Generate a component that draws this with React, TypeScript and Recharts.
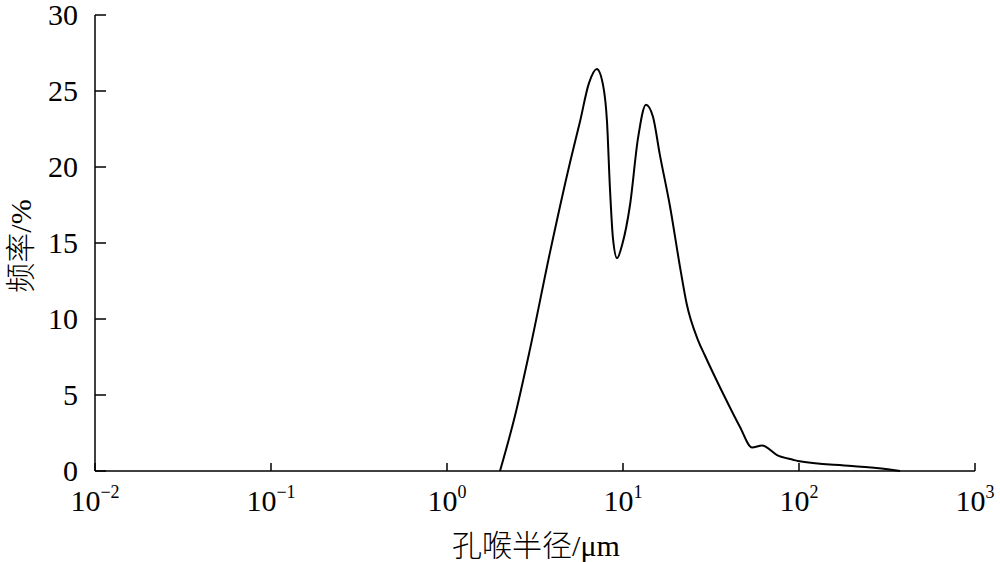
import React from "react";
import { LineChart, Line, XAxis, YAxis } from "recharts";

// pore throat radius (μm) and frequency (%)
const radius = [
  2.0, 2.43, 2.96, 3.85, 5.0, 5.7, 6.4, 7.1, 7.7, 8.11, 8.43, 8.77, 9.25,
  9.9, 10.96, 12.17, 13.5, 14.8, 16.2, 18.5, 21.1, 23.0, 26.7, 29.2, 37.0, 46.2, 54.1,
  61.7, 75.0, 92.5, 98.6, 200, 342, 375,
];
const frequency = [
  0, 3.6, 8.0, 14.4, 20.3, 23.0, 25.5, 26.45, 25.4, 23.0, 18.6, 15.3, 14.0,
  14.9, 17.5, 21.9, 24.1, 23.3, 20.8, 17.4, 13.4, 11.0, 8.6, 7.6, 5.1, 2.9, 1.55,
  1.68, 1.05, 0.74, 0.66, 0.33, 0.07, 0,
];
const xTicks = [0.01, 0.1, 1, 10, 100, 1000];
const xExponents = ["−2", "−1", "0", "1", "2", "3"];
const yTicks = [0, 5, 10, 15, 20, 25, 30];

const data = radius.map((r, i) => ({ r, f: frequency[i] }));

const SERIF = "Liberation Serif, Times New Roman, serif";
const CJK = "Noto Sans CJK SC, sans-serif";

function XTick(props: any) {
  const { x, y, index } = props;
  return (
    <g>
      <line x1={x} y1={y} x2={x} y2={y - 8} stroke="#000" strokeWidth={1.5} />
      <text x={x} y={y + 40} textAnchor="middle" fontFamily={SERIF} fontSize={30} fill="#000">
        <tspan>10</tspan>
        <tspan fontSize={18} dy={-13}>
          {xExponents[index]}
        </tspan>
      </text>
    </g>
  );
}

function YTick(props: any) {
  const { x, y, payload } = props;
  return (
    <g>
      <line x1={x} y1={y} x2={x + 11} y2={y} stroke="#000" strokeWidth={1.5} />
      <text x={x - 17} y={y + 10} textAnchor="end" fontFamily={SERIF} fontSize={30} fill="#000">
        {payload.value}
      </text>
    </g>
  );
}

export default function App() {
  return (
    <div style={{ position: "absolute", left: 0, top: 0, width: 1000, height: 562, background: "#fff" }}>
      <LineChart width={1000} height={562} data={data} margin={{ top: 15, right: 25, bottom: 90, left: 0 }}>
        <XAxis
          dataKey="r"
          type="number"
          scale="log"
          domain={[0.01, 1000]}
          ticks={xTicks}
          allowDataOverflow
          height={1}
          tickLine={false}
          tickSize={0}
          tickMargin={0}
          tick={<XTick />}
          axisLine={{ stroke: "#000", strokeWidth: 1.5 }}
          interval={0}
        />
        <YAxis
          width={95}
          type="number"
          domain={[0, 30]}
          ticks={yTicks}
          tickLine={false}
          tickSize={0}
          tickMargin={0}
          tick={<YTick />}
          axisLine={{ stroke: "#000", strokeWidth: 1.5 }}
          interval={0}
        />
        <Line
          dataKey="f"
          type="monotone"
          stroke="#000"
          strokeWidth={2}
          dot={false}
          isAnimationActive={false}
        />
      </LineChart>
      <div
        style={{
          position: "absolute",
          left: 536,
          top: 544,
          transform: "translate(-50%, -50%)",
          fontFamily: SERIF,
          fontSize: 30,
          whiteSpace: "nowrap",
          lineHeight: 1,
        }}
      >
        <span style={{ fontFamily: CJK, fontWeight: 300 }}>孔喉半径</span>/μm
      </div>
      <div
        style={{
          position: "absolute",
          left: 19,
          top: 246,
          transform: "translate(-50%, -50%) rotate(-90deg)",
          fontFamily: SERIF,
          fontSize: 30,
          whiteSpace: "nowrap",
          lineHeight: 1,
        }}
      >
        <span style={{ fontFamily: CJK, fontWeight: 300 }}>频率</span>/%
      </div>
    </div>
  );
}
